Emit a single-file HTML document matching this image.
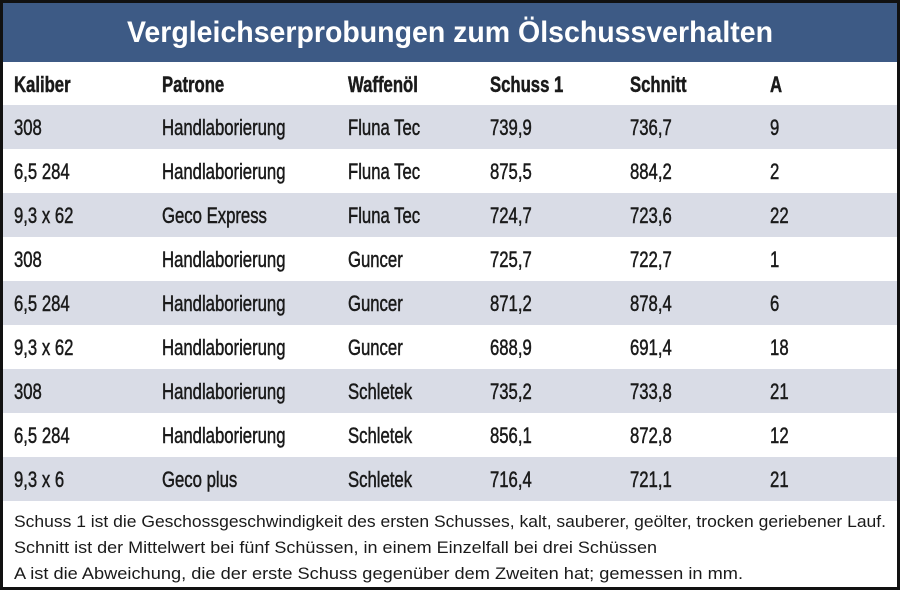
<!DOCTYPE html>
<html><head><meta charset="utf-8"><style>
html,body{margin:0;padding:0;background:#fff;}
svg{display:block;}
.c{font-family:"Liberation Sans",sans-serif;font-size:22px;fill:#1a1a1a;stroke:#1a1a1a;stroke-width:0.5;}
.h{font-weight:bold;}
.f{font-family:"Liberation Sans",sans-serif;font-size:17px;fill:#1a1a1a;}
</style></head><body>
<svg width="900" height="590" viewBox="0 0 900 590" xmlns="http://www.w3.org/2000/svg">
<rect x="0" y="0" width="900" height="590" fill="#fff"/>
<rect x="0" y="0" width="900" height="62" fill="#3d5a85"/>
<text x="450" y="42" text-anchor="middle" font-family="Liberation Sans, sans-serif" font-weight="bold" font-size="30" fill="#fff" textLength="646" lengthAdjust="spacingAndGlyphs">Vergleichserprobungen zum Ölschussverhalten</text>
<g fill="#d9dce6">
<rect x="0" y="105" width="900" height="44"/>
<rect x="0" y="193" width="900" height="44"/>
<rect x="0" y="281" width="900" height="44"/>
<rect x="0" y="369" width="900" height="44"/>
<rect x="0" y="457" width="900" height="44"/>
</g>
<g transform="scale(0.76 1)">
<g class="c h">
<text x="18.4" y="92">Kaliber</text><text x="213.2" y="92">Patrone</text><text x="457.9" y="92">Waffenöl</text><text x="644.7" y="92">Schuss 1</text><text x="828.9" y="92">Schnitt</text><text x="1013.2" y="92">A</text>
</g>
<g class="c">
<text x="18.4" y="135">308</text><text x="213.2" y="135">Handlaborierung</text><text x="457.9" y="135">Fluna Tec</text><text x="644.7" y="135">739,9</text><text x="828.9" y="135">736,7</text><text x="1013.2" y="135">9</text>
<text x="18.4" y="179">6,5 284</text><text x="213.2" y="179">Handlaborierung</text><text x="457.9" y="179">Fluna Tec</text><text x="644.7" y="179">875,5</text><text x="828.9" y="179">884,2</text><text x="1013.2" y="179">2</text>
<text x="18.4" y="223">9,3 x 62</text><text x="213.2" y="223">Geco Express</text><text x="457.9" y="223">Fluna Tec</text><text x="644.7" y="223">724,7</text><text x="828.9" y="223">723,6</text><text x="1013.2" y="223">22</text>
<text x="18.4" y="267">308</text><text x="213.2" y="267">Handlaborierung</text><text x="457.9" y="267">Guncer</text><text x="644.7" y="267">725,7</text><text x="828.9" y="267">722,7</text><text x="1013.2" y="267">1</text>
<text x="18.4" y="311">6,5 284</text><text x="213.2" y="311">Handlaborierung</text><text x="457.9" y="311">Guncer</text><text x="644.7" y="311">871,2</text><text x="828.9" y="311">878,4</text><text x="1013.2" y="311">6</text>
<text x="18.4" y="355">9,3 x 62</text><text x="213.2" y="355">Handlaborierung</text><text x="457.9" y="355">Guncer</text><text x="644.7" y="355">688,9</text><text x="828.9" y="355">691,4</text><text x="1013.2" y="355">18</text>
<text x="18.4" y="399">308</text><text x="213.2" y="399">Handlaborierung</text><text x="457.9" y="399">Schletek</text><text x="644.7" y="399">735,2</text><text x="828.9" y="399">733,8</text><text x="1013.2" y="399">21</text>
<text x="18.4" y="443">6,5 284</text><text x="213.2" y="443">Handlaborierung</text><text x="457.9" y="443">Schletek</text><text x="644.7" y="443">856,1</text><text x="828.9" y="443">872,8</text><text x="1013.2" y="443">12</text>
<text x="18.4" y="487">9,3 x 6</text><text x="213.2" y="487">Geco plus</text><text x="457.9" y="487">Schletek</text><text x="644.7" y="487">716,4</text><text x="828.9" y="487">721,1</text><text x="1013.2" y="487">21</text>
</g>
</g>
<g class="f">
<text x="14" y="527" textLength="872" lengthAdjust="spacingAndGlyphs">Schuss 1 ist die Geschossgeschwindigkeit des ersten Schusses, kalt, sauberer, geölter, trocken geriebener Lauf.</text>
<text x="14" y="553" textLength="643" lengthAdjust="spacingAndGlyphs">Schnitt ist der Mittelwert bei fünf Schüssen, in einem Einzelfall bei drei Schüssen</text>
<text x="14" y="579" textLength="729" lengthAdjust="spacingAndGlyphs">A ist die Abweichung, die der erste Schuss gegenüber dem Zweiten hat; gemessen in mm.</text>
</g>
<rect x="1.5" y="1.5" width="897" height="587" fill="none" stroke="#111" stroke-width="3"/>
</svg>
</body></html>
